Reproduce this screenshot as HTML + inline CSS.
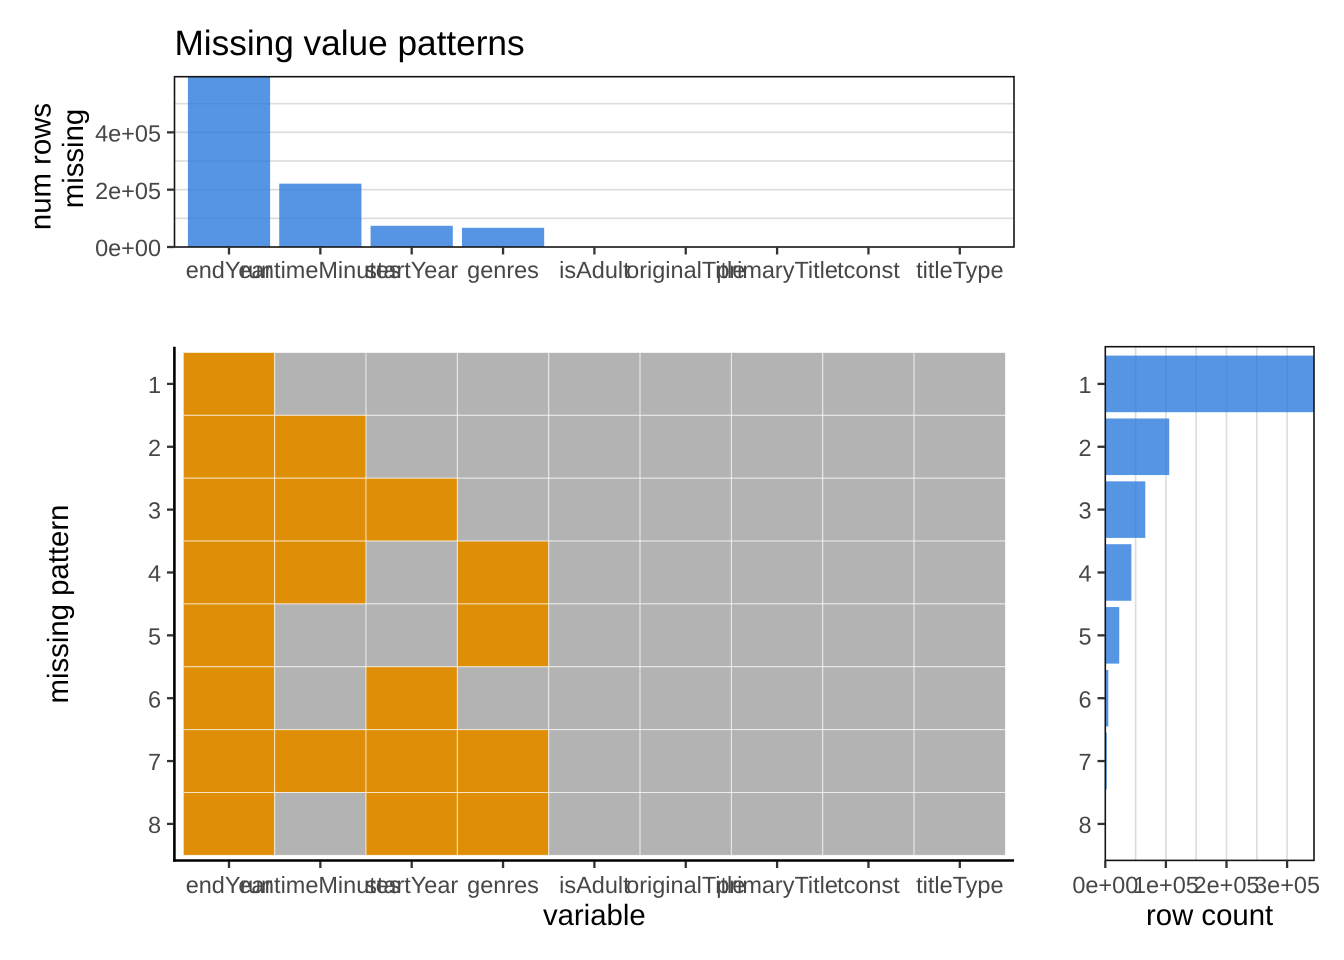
<!DOCTYPE html>
<html lang="en">
<head>
<meta charset="utf-8">
<title>Missing value patterns</title>
<style>
html,body{margin:0;padding:0;background:#fff;}
svg{display:block;font-family:"Liberation Sans",Arial,Helvetica,sans-serif;text-rendering:geometricPrecision;}
</style>
</head>
<body>
<svg id="chart" width="1344" height="960" viewBox="0 0 1344 960" xmlns="http://www.w3.org/2000/svg"></svg>
<script>
const variables = ["endYear","runtimeMinutes","startYear","genres","isAdult","originalTitle","primaryTitle","tconst","titleType"];
const missingCounts = [596000,221000,74000,67000,0,0,0,0,0];
const topTickValues = [0,200000,400000];
const topTickLabels = ["0e+00","2e+05","4e+05"];
const topGridValues = [100000,200000,300000,400000,500000];
const patterns = ["1","2","3","4","5","6","7","8"];
const patternMatrix = [
  [1,0,0,0,0,0,0,0,0],
  [1,1,0,0,0,0,0,0,0],
  [1,1,1,0,0,0,0,0,0],
  [1,1,0,1,0,0,0,0,0],
  [1,0,0,1,0,0,0,0,0],
  [1,0,1,0,0,0,0,0,0],
  [1,1,1,1,0,0,0,0,0],
  [1,0,1,1,0,0,0,0,0]
];
const rowCounts = [345000,105500,66000,43000,23000,5000,2500,300];
const rowTickValues = [0,100000,200000,300000];
const rowTickLabels = ["0e+00","1e+05","2e+05","3e+05"];
const rowGridValues = [50000,100000,150000,200000,250000,300000];

const svg = document.getElementById('chart');
const NS = 'http://www.w3.org/2000/svg';

function make(tag, attrs, name, parent) {
  const el = document.createElementNS(NS, tag);
  for (const k in attrs) el.setAttribute(k, attrs[k]);
  
  
  (parent || svg).appendChild(el);
  return el;
}
function label(str, x, y, size, fill, anchor, name, rotate) {
  const attrs = {x:x, y:y, 'font-size':size, fill:fill, 'text-anchor':anchor};
  if (rotate) attrs.transform = 'rotate(-90 ' + x + ' ' + y + ')';
  const t = make('text', attrs, name);
  t.textContent = str;
  return t;
}

const TICK = 23.47, AXIS = 29.33, TITLE = 35.2;
const TICKCOL = '#474747', MARKCOL = '#333333', GRID = '#dcdcdc', BAR = '#2b7bdd';
const BORDER = '#141414', TICKW = 2.3, LABELDY = 9.1;

/* shared scales */
const xBand = i => 229.0 + i * 91.35;
const yBand = i => 383.9 + i * 62.86;
const xStep = 91.35, yStep = 62.86;
const yTop = v => 247 - v * 0.0002866;
const xRow = v => 1105.3 + v * 0.000606;

const defs = make('defs', {}, 'clip-definitions');
const c1 = make('clipPath', {id:'clip-top'}, 'top-panel-clip', defs);
make('rect', {x:174.5,y:76.7,width:839.5,height:170.3}, 'top-panel-clip-rect', c1);
const c2 = make('clipPath', {id:'clip-right'}, 'right-panel-clip', defs);
make('rect', {x:1105.3,y:346.7,width:208.7,height:513.7}, 'right-panel-clip-rect', c2);

/* title */
label('Missing value patterns', 174.5, 55, TITLE, '#000', 'start', 'chart-title');

/* ---- top panel ---- */
topGridValues.forEach(v => {
  make('line', {x1:174.5,x2:1014,y1:yTop(v),y2:yTop(v),stroke:GRID,'stroke-width':1.6}, 'top-gridline');
});
const gTop = make('g', {'clip-path':'url(#clip-top)'}, 'top-bars');
missingCounts.forEach((v, i) => {
  const w = xStep * 0.9;
  make('rect', {x:xBand(i)-w/2,y:yTop(v),width:w,height:247-yTop(v),fill:BAR,'fill-opacity':0.8}, 'missing-bar-' + variables[i], gTop);
});
make('rect', {x:174.5,y:76.7,width:839.5,height:170.3,fill:'none',stroke:BORDER,'stroke-width':1.6}, 'top-panel-border');
topTickValues.forEach((v, i) => {
  make('line', {x1:167,x2:174.5,y1:yTop(v),y2:yTop(v),stroke:MARKCOL,'stroke-width':TICKW}, 'top-y-tick');
  label(topTickLabels[i], 161, yTop(v)+LABELDY, TICK, TICKCOL, 'end', 'top-y-tick-label');
});
variables.forEach((name, i) => {
  make('line', {x1:xBand(i),x2:xBand(i),y1:247,y2:254.5,stroke:MARKCOL,'stroke-width':TICKW}, 'top-x-tick');
  label(name, xBand(i), 278, TICK, TICKCOL, 'middle', 'top-x-tick-label');
});
label('num rows', 50.5, 166.5, AXIS, '#000', 'middle', 'top-y-axis-title-line-1', true);
label('missing', 83, 158.5, AXIS, '#000', 'middle', 'top-y-axis-title-line-2', true);

/* ---- heatmap panel ---- */
patternMatrix.forEach((row, r) => {
  row.forEach((cell, c) => {
    make('rect', {x:xBand(c)-xStep/2,y:yBand(r)-yStep/2,width:xStep,height:yStep,
      fill:cell ? '#df8e07' : '#b3b3b3',stroke:'#ffffff','stroke-width':1,'stroke-opacity':0.65},
      'pattern-cell-' + patterns[r] + '-' + variables[c]);
  });
});
make('line', {x1:174.4,x2:174.4,y1:346.7,y2:861.7,stroke:'#000','stroke-width':2.6}, 'heatmap-y-axis-line');
make('line', {x1:173.1,x2:1014,y1:860.5,y2:860.5,stroke:'#000','stroke-width':2.6}, 'heatmap-x-axis-line');
patterns.forEach((p, i) => {
  make('line', {x1:167,x2:173,y1:yBand(i),y2:yBand(i),stroke:MARKCOL,'stroke-width':TICKW}, 'heatmap-y-tick');
  label(p, 161, yBand(i)+LABELDY, TICK, TICKCOL, 'end', 'heatmap-y-tick-label');
});
variables.forEach((name, i) => {
  make('line', {x1:xBand(i),x2:xBand(i),y1:861.5,y2:868,stroke:MARKCOL,'stroke-width':TICKW}, 'heatmap-x-tick');
  label(name, xBand(i), 893, TICK, TICKCOL, 'middle', 'heatmap-x-tick-label');
});
label('variable', 594.3, 925, AXIS, '#000', 'middle', 'x-axis-title');
label('missing pattern', 68, 604, AXIS, '#000', 'middle', 'y-axis-title', true);

/* ---- row count panel ---- */
rowGridValues.forEach(v => {
  make('line', {x1:xRow(v),x2:xRow(v),y1:346.7,y2:860.4,stroke:GRID,'stroke-width':1.6}, 'row-gridline');
});
const gRow = make('g', {'clip-path':'url(#clip-right)'}, 'row-bars');
rowCounts.forEach((v, i) => {
  const h = yStep * 0.9;
  make('rect', {x:1105.3,y:yBand(i)-h/2,width:xRow(v)-1105.3,height:h,fill:BAR,'fill-opacity':0.8}, 'row-count-bar-' + patterns[i], gRow);
});
make('rect', {x:1105.3,y:346.7,width:208.7,height:513.7,fill:'none',stroke:BORDER,'stroke-width':1.6}, 'row-panel-border');
patterns.forEach((p, i) => {
  make('line', {x1:1097.5,x2:1105,y1:yBand(i),y2:yBand(i),stroke:MARKCOL,'stroke-width':TICKW}, 'row-y-tick');
  label(p, 1091.5, yBand(i)+LABELDY, TICK, TICKCOL, 'end', 'row-y-tick-label');
});
rowTickValues.forEach((v, i) => {
  make('line', {x1:xRow(v),x2:xRow(v),y1:860.4,y2:868,stroke:MARKCOL,'stroke-width':TICKW}, 'row-x-tick');
  label(rowTickLabels[i], xRow(v), 893, TICK, TICKCOL, 'middle', 'row-x-tick-label');
});
label('row count', 1209.6, 925, AXIS, '#000', 'middle', 'row-count-axis-title');
</script>
</body>
</html>
